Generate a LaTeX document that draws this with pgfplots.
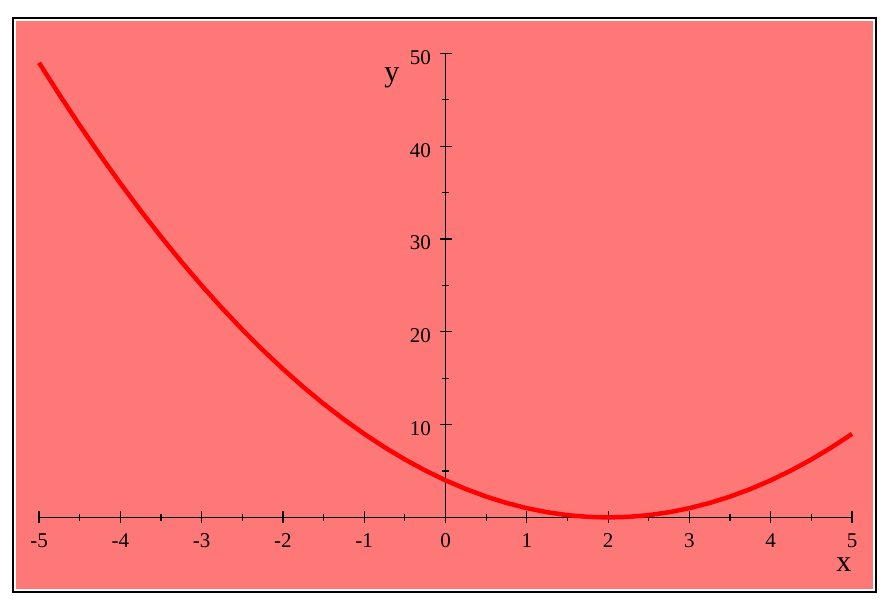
\documentclass[border=0pt]{standalone}
\usepackage{pgfplots}
\pgfplotsset{compat=1.18}
\usepackage{fontspec}
\setmainfont{Liberation Serif}
\definecolor{bgpink}{RGB}{255,120,120}
\begin{document}
\begin{tikzpicture}[x=1pt,y=1pt]
\fill[white] (0,0) rectangle (888,607);
\draw[black, line width=2pt] (12.5,15) rectangle (875.5,589);
\fill[bgpink] (15.5,18) rectangle (872.5,586);
\begin{axis}[
  at={(48,96.5)}, anchor=south west,
  width=813pt, height=464pt, scale only axis,
  xmin=-5, xmax=5, ymin=0, ymax=50,
  axis lines=middle,
  axis line style={-, black, line width=1.2pt},
  every tick/.style={black, line width=1.2pt},
  tick align=center,
  major tick length=12pt, minor tick length=7pt,
  hide obscured x ticks=false, hide obscured y ticks=false,
  xtick={-5,-4,-3,-2,-1,0,1,2,3,4,5},
  xticklabels={-5,-4,-3,-2,-1,0,1,2,3,4,5},
  ytick={10,20,30,40,50},
  yticklabels={10,20,30,40,50},
  minor xtick={-4.5,-3.5,-2.5,-1.5,-0.5,0.5,1.5,2.5,3.5,4.5},
  minor ytick={5,15,25,35,45},
  tick label style={font=\fontsize{21}{25}\selectfont},
  xticklabel style={anchor=north, yshift=-7pt},
  yticklabel style={anchor=east, xshift=-5pt, yshift=-4pt},
  xlabel={x}, ylabel={y},
  label style={font=\fontsize{30}{34}\selectfont},
  xlabel style={at={(axis description cs:0.990,-0.101)}, anchor=center},
  ylabel style={at={(axis description cs:0.434,0.948)}, anchor=center, rotate=0},
  clip=false,
]
\addplot[red, line width=4.5pt, line join=round] coordinates {
(-5,49) (-4.75,45.5625) (-4.5,42.25) (-4.25,39.0625) (-4,36)
(-3.75,33.0625) (-3.5,30.25) (-3.25,27.5625) (-3,25) (-2.75,22.5625)
(-2.5,20.25) (-2.25,18.0625) (-2,16) (-1.75,14.0625) (-1.5,12.25)
(-1.25,10.5625) (-1,9) (-0.75,7.5625) (-0.5,6.25) (-0.25,5.0625)
(0,4) (0.25,3.0625) (0.5,2.25) (0.75,1.5625) (1,1)
(1.25,0.5625) (1.5,0.25) (1.75,0.0625) (2,0) (2.25,0.0625)
(2.5,0.25) (2.75,0.5625) (3,1) (3.25,1.5625) (3.5,2.25)
(3.75,3.0625) (4,4) (4.25,5.0625) (4.5,6.25) (4.75,7.5625) (5,9)
};
\end{axis}
\end{tikzpicture}
\end{document}
